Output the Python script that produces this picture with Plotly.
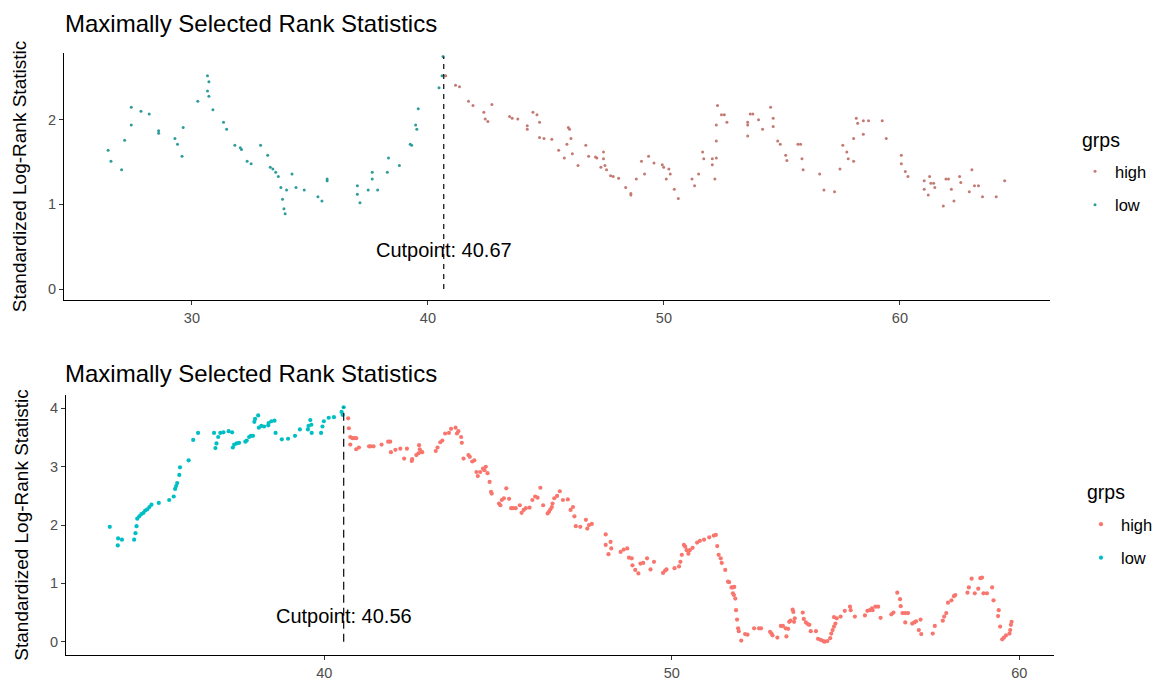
import plotly.graph_objects as go

# ---------------- data: top panel ----------------
top_cutpoint = 40.67
top_cuts = [26.45, 26.57, 27.02, 27.15, 27.43, 27.43, 27.84, 28.19, 28.59, 28.59,
            29.28, 29.39, 29.58, 29.63, 30.25, 30.66, 30.72, 30.66, 30.72, 30.89,
            31.34, 31.47, 31.82, 32.05, 32.10, 32.34, 32.51, 32.91, 33.21, 33.32,
            33.43, 33.55, 33.66, 33.77, 33.84, 33.90, 33.95, 34.01, 34.24, 34.41,
            34.76, 35.34, 35.51, 35.73, 35.73, 37.01, 37.01, 37.12, 37.47, 37.64,
            37.64, 37.87, 38.28, 38.33, 38.79, 39.25, 39.31, 39.48, 39.53, 39.59,
            40.47, 40.60, 40.64,
            40.75, 41.17, 41.34, 41.72, 41.91, 42.37, 42.43, 42.54, 42.71, 43.46,
            43.57, 43.81, 44.21, 44.21, 44.45, 44.62, 44.73, 44.73, 44.92, 45.25,
            45.54, 45.78, 45.89, 45.95, 46.00, 46.06, 46.12, 46.36, 46.69, 46.81,
            47.10, 47.16, 47.33, 47.44, 47.44, 47.50, 47.57, 47.74, 47.85, 48.08,
            48.38, 48.60, 48.60, 48.83, 49.05, 49.18, 49.35, 49.58, 49.93, 49.99,
            50.10, 50.21, 50.27, 50.44, 50.61, 51.19, 51.30, 51.47, 51.64, 51.69,
            52.05, 52.05, 52.16, 52.22, 52.22, 52.22, 52.27, 52.44, 52.56, 52.67,
            53.55, 53.55, 53.55, 53.66, 53.77, 54.01, 54.18, 54.52, 54.63, 54.63,
            54.82, 54.93, 55.16, 55.21, 55.68, 55.79, 55.85, 55.90, 56.60, 56.78,
            57.23, 57.46, 57.58, 57.75, 57.81, 58.04, 58.04, 58.15, 58.21, 58.45,
            58.45, 58.67, 59.25, 59.42, 60.06, 60.06, 60.23, 60.34, 61.03, 61.03,
            61.20, 61.26, 61.31, 61.43, 61.48, 61.84, 61.95, 62.06, 62.18, 62.29,
            62.53, 62.58, 62.94, 63.05, 63.16, 63.33, 63.50, 64.08, 64.44]
top_stats = [1.64, 1.51, 1.41, 1.76, 2.15, 1.94, 2.10, 2.07, 1.87, 1.84,
             1.78, 1.71, 1.57, 1.91, 2.22, 2.52, 2.45, 2.34, 2.28, 2.12,
             1.97, 1.89, 1.70, 1.67, 1.65, 1.51, 1.48, 1.70, 1.58, 1.44,
             1.42, 1.38, 1.33, 1.20, 1.06, 0.95, 0.89, 1.17, 1.36, 1.20,
             1.17, 1.09, 1.04, 1.30, 1.28, 1.22, 1.12, 1.02, 1.17, 1.38,
             1.30, 1.17, 1.38, 1.55, 1.46, 1.71, 1.70, 1.94, 1.89, 2.13,
             2.38, 2.52, 2.75,
             2.52, 2.41, 2.39, 2.22, 2.17, 2.09, 2.01, 1.98, 2.18, 2.04,
             2.02, 2.01, 1.93, 1.89, 2.09, 2.06, 1.97, 1.79, 1.78, 1.77,
             1.64, 1.55, 1.71, 1.91, 1.89, 1.78, 1.60, 1.46, 1.70, 1.57,
             1.56, 1.55, 1.44, 1.62, 1.54, 1.46, 1.41, 1.34, 1.33, 1.31,
             1.20, 1.13, 1.11, 1.30, 1.51, 1.36, 1.57, 1.49, 1.47, 1.44,
             1.30, 1.42, 1.36, 1.18, 1.07, 1.30, 1.22, 1.36, 1.62, 1.54,
             1.54, 1.47, 1.30, 1.94, 1.75, 1.55, 2.17, 2.06, 2.06, 1.97,
             1.97, 1.94, 1.81, 2.07, 2.07, 2.00, 1.89, 2.15, 2.02, 1.92,
             1.75, 1.71, 1.58, 1.52, 1.71, 1.71, 1.54, 1.41, 1.36, 1.17,
             1.15, 1.42, 1.70, 1.62, 1.54, 1.51, 1.78, 2.02, 1.96, 1.99,
             1.83, 1.99, 1.99, 1.78, 1.58, 1.48, 1.39, 1.33, 1.28, 1.18,
             1.11, 1.33, 1.25, 1.25, 1.20, 0.98, 1.30, 1.30, 1.18, 1.04,
             1.33, 1.26, 1.15, 1.41, 1.22, 1.22, 1.09, 1.09, 1.28]

# ---------------- data: bottom panel ----------------
bot_cutpoint = 40.56
bot_cuts = [33.83, 34.06, 34.07, 34.18, 34.53, 34.57, 34.60, 34.62, 34.68, 34.74,
            34.80, 34.85, 34.91, 34.97, 35.03, 35.24, 35.54, 35.67, 35.71, 35.74,
            35.77, 35.83, 35.85, 36.10, 36.23, 36.37, 36.83, 36.87, 36.90, 36.95,
            37.01, 37.10, 37.25, 37.35, 37.37, 37.41, 37.48, 37.55, 37.73, 37.77,
            37.84, 37.89, 37.95, 37.99, 38.01, 38.10, 38.12, 38.19, 38.27, 38.39,
            38.40, 38.48, 38.57, 38.60, 38.78, 38.96, 39.16, 39.30, 39.53, 39.55,
            39.60, 39.63, 39.64, 39.91, 39.95, 39.99, 40.13, 40.28, 40.50, 40.53,
            40.56,
            40.69, 40.71, 40.75, 40.81, 40.86, 40.92, 40.75, 40.92, 41.00, 41.29,
            41.34, 41.42, 41.65, 41.84, 41.90, 41.92, 42.05, 42.19, 42.30, 42.38,
            42.52, 42.53, 42.65, 42.71, 42.73, 42.75, 42.78, 42.82, 43.21, 43.26,
            43.34, 43.40, 43.48, 43.59, 43.65, 43.78, 43.82, 43.86, 43.94, 43.96,
            44.01, 44.15, 44.19, 44.26, 44.32, 44.38, 44.42, 44.49, 44.57, 44.61,
            44.65, 44.70, 44.76, 44.80, 44.82, 45.03, 45.07, 45.11, 45.17, 45.24,
            45.32, 45.38, 45.43, 45.51, 45.63, 45.68, 45.74, 45.80, 45.91, 45.99,
            46.07, 46.14, 46.22, 46.30, 46.43, 46.47, 46.51, 46.55, 46.57, 46.62,
            46.70, 46.78, 46.87, 47.01, 47.09, 47.16, 47.20, 47.24, 47.37, 47.53,
            47.57, 47.62, 47.70, 48.10, 48.10, 48.18, 48.24, 48.26, 48.53, 48.62,
            48.72, 48.77, 48.85, 48.87, 48.95, 49.04, 49.10, 49.18, 49.29, 49.39,
            49.49, 49.75, 49.81, 49.85, 50.08, 50.21, 50.25, 50.29, 50.35, 50.39,
            50.43, 50.48, 50.52, 50.60, 50.73, 50.81, 50.93, 51.08, 51.21, 51.27,
            51.31, 51.35, 51.41, 51.44, 51.54, 51.62, 51.65, 51.72, 51.76, 51.80,
            51.76, 51.79, 51.83, 51.85, 51.88, 51.91, 51.93, 52.00, 52.11, 52.18,
            52.37, 52.51, 52.57, 52.83, 52.87, 52.90, 53.04, 53.14, 53.20, 53.28,
            53.30, 53.35, 53.38, 53.42, 53.48, 53.50, 53.54, 53.52, 53.77, 53.80,
            53.86, 53.92, 53.96, 54.00, 54.15, 54.21, 54.29, 54.36, 54.40, 54.48,
            54.56, 54.59, 54.63, 54.67, 54.71, 54.67, 54.75, 54.86, 54.98, 55.13,
            55.15, 55.27, 55.56, 55.63, 55.70, 55.76, 55.78, 55.86, 55.94, 56.01,
            56.32, 56.38, 56.49, 56.57, 56.59, 56.64, 56.72, 56.80, 56.72, 56.92,
            56.98, 57.03, 57.11, 57.16, 57.18, 57.51, 57.57, 57.80, 57.84, 57.90,
            57.95, 58.05, 58.12, 58.16, 58.51, 58.55, 58.63, 58.72, 58.82, 58.88,
            58.93, 58.97, 59.07, 59.22, 59.26, 59.41, 59.39, 59.45, 59.51, 59.56,
            59.62, 59.72, 59.74, 59.76, 59.78]
bot_stats = [1.97, 1.65, 1.77, 1.75, 1.75, 1.86, 1.98, 2.11, 2.15, 2.19,
             2.21, 2.25, 2.27, 2.31, 2.35, 2.38, 2.43, 2.49, 2.62, 2.67,
             2.72, 2.86, 2.99, 3.11, 3.46, 3.58, 3.58, 3.32, 3.40, 3.51,
             3.58, 3.59, 3.61, 3.59, 3.33, 3.38, 3.40, 3.41, 3.43, 3.45,
             3.51, 3.53, 3.53, 3.77, 3.82, 3.88, 3.67, 3.70, 3.69, 3.71,
             3.75, 3.78, 3.79, 3.58, 3.47, 3.48, 3.53, 3.64, 3.64, 3.70,
             3.80, 3.72, 3.58, 3.58, 3.69, 3.78, 3.84, 3.85, 3.94, 3.89,
             4.02,
             3.83, 3.66, 3.51, 3.49, 3.49, 3.49, 3.38, 3.30, 3.33, 3.35,
             3.35, 3.35, 3.38, 3.43, 3.43, 3.25, 3.29, 3.31, 3.14, 3.31,
             3.10, 3.13, 3.20, 3.23, 3.37, 3.30, 3.25, 3.25, 3.27, 3.33,
             3.42, 3.45, 3.57, 3.58, 3.65, 3.67, 3.57, 3.61, 3.51, 3.41,
             3.14, 3.20, 3.17, 3.09, 3.11, 2.91, 2.84, 2.91, 2.97, 2.94,
             3.00, 2.89, 2.74, 2.57, 2.54, 2.37, 2.34, 2.43, 2.46, 2.63,
             2.45, 2.29, 2.29, 2.29, 2.34, 2.21, 2.26, 2.29, 2.30, 2.43,
             2.49, 2.47, 2.64, 2.34, 2.20, 2.23, 2.27, 2.31, 2.37, 2.46,
             2.50, 2.58, 2.43, 2.44, 2.26, 2.31, 2.15, 1.98, 1.97, 2.09,
             1.94, 2.00, 2.02, 1.84, 1.66, 1.50, 1.71, 1.60, 1.54, 1.58,
             1.60, 1.44, 1.43, 1.31, 1.23, 1.17, 1.34, 1.35, 1.43, 1.24,
             1.37, 1.18, 1.22, 1.24, 1.26, 1.29, 1.37, 1.49, 1.66, 1.63,
             1.57, 1.51, 1.57, 1.61, 1.70, 1.73, 1.75, 1.79, 1.82, 1.83,
             1.64, 1.49, 1.43, 1.35, 1.23, 1.03, 1.02, 0.93, 0.93, 0.94,
             0.83, 0.80, 0.74, 0.54, 0.38, 0.23, 0.18, 0.02, 0.13, 0.12,
             0.23, 0.23, 0.23, 0.17, 0.14, 0.11, 0.07, 0.27, 0.27, 0.23,
             0.09, 0.22, 0.34, 0.36, 0.55, 0.51, 0.40, 0.34, 0.50, 0.39,
             0.33, 0.30, 0.29, 0.18, 0.18, 0.05, 0.03, 0.01, 0.00, 0.01,
             0.06, 0.14, 0.20, 0.26, 0.31, 0.42, 0.40, 0.43, 0.53, 0.60,
             0.54, 0.43, 0.45, 0.53, 0.54, 0.57, 0.54, 0.60, 0.60, 0.41,
             0.47, 0.50, 0.84, 0.73, 0.61, 0.49, 0.49, 0.49, 0.33, 0.31,
             0.33, 0.35, 0.20, 0.38, 0.13, 0.14, 0.27, 0.36, 0.43, 0.49,
             0.67, 0.71, 0.78, 0.80, 0.84, 0.93, 1.08, 0.83, 0.91, 1.09,
             1.10, 0.83, 0.83, 0.93, 0.71, 0.54, 0.44, 0.26, 0.04, 0.07,
             0.11, 0.14, 0.20, 0.29, 0.34]

groups = ["high", "low"]
legend_title = "grps"
title_text = "Maximally Selected Rank Statistics"
y_title = "Standardized Log-Rank Statistic"
label_y = 0.5

FONT = "Liberation Sans, Arial, sans-serif"
top_colors = {"high": "#c47a72", "low": "#2f9c9c"}
bot_colors = {"high": "#F8766D", "low": "#00BFC4"}

W, H = 1168, 680


def px_x(px):
    return px / W


def px_y(py):
    return 1 - py / H


def split(cuts, stats, cp):
    out = {"high": ([], []), "low": ([], [])}
    for x, y in zip(cuts, stats):
        g = "low" if x <= cp else "high"
        out[g][0].append(x)
        out[g][1].append(y)
    return out


fig = go.Figure()

panels = [
    dict(cuts=top_cuts, stats=top_stats, cp=top_cutpoint, colors=top_colors,
         xa="x", ya="y", legend="legend", msize=3.0, dash="5px,5px"),
    dict(cuts=bot_cuts, stats=bot_stats, cp=bot_cutpoint, colors=bot_colors,
         xa="x2", ya="y2", legend="legend2", msize=4.2, dash="8px,5px"),
]

for p in panels:
    parts = split(p["cuts"], p["stats"], p["cp"])
    for g in groups:
        xs, ys = parts[g]
        fig.add_trace(go.Scatter(
            x=xs, y=ys, mode="markers", name=g, legendgroup=p["legend"] + g,
            marker=dict(color=p["colors"][g], size=p["msize"], line=dict(width=0)),
            xaxis=p["xa"], yaxis=p["ya"], legend=p["legend"], showlegend=True,
        ))
    # dashed segment from 0 to the maximal statistic at the cutpoint
    fig.add_trace(go.Scatter(
        x=[p["cp"], p["cp"]], y=[0, max(p["stats"])], mode="lines",
        line=dict(color="#1a1a1a", width=1.3, dash=p["dash"]),
        xaxis=p["xa"], yaxis=p["ya"], showlegend=False, hoverinfo="skip",
    ))
    fig.add_annotation(
        x=p["cp"], y=label_y, xref=p["xa"], yref=p["ya"],
        text=f"Cutpoint: {p['cp']:.2f}", showarrow=False,
        font=dict(family=FONT, size=20, color="#000000"),
        xanchor="center", yanchor="middle", yshift=-3,
    )

axis_common = dict(
    showgrid=False, zeroline=False, showline=True, linecolor="#000000", linewidth=1.2,
    ticks="outside", ticklen=4, tickcolor="#333333", tickwidth=1.1,
    tickfont=dict(family=FONT, size=14.5, color="#4D4D4D"),
)

ytitle = dict(text=y_title, font=dict(family=FONT, size=19, color="#000000"), standoff=16)
legend_common = dict(
    xanchor="left", yanchor="top",
    font=dict(family=FONT, size=16.5, color="#000000"),
    bgcolor="rgba(0,0,0,0)", tracegroupgap=9, traceorder="grouped",
)

fig.update_layout(
    width=W, height=H,
    margin=dict(l=0, r=0, t=0, b=0),
    paper_bgcolor="white", plot_bgcolor="white",
    font=dict(family=FONT, color="#000000"),
    xaxis=dict(domain=[px_x(64), px_x(1050)], range=[24.58, 66.36],
               tickvals=[30, 40, 50, 60], anchor="y", **axis_common),
    yaxis=dict(domain=[px_y(300), px_y(53)], range=[-0.13, 2.79],
               tickvals=[0, 1, 2], anchor="x", title=ytitle, **axis_common),
    xaxis2=dict(domain=[px_x(66), px_x(1054)], range=[32.57, 61.0],
                tickvals=[40, 50, 60], anchor="y2", **axis_common),
    yaxis2=dict(domain=[px_y(655), px_y(395)], range=[-0.228, 4.23],
                tickvals=[0, 1, 2, 3, 4], anchor="x2", title=ytitle, **axis_common),
    legend=dict(x=px_x(1075), y=px_y(154), **legend_common),
    legend2=dict(x=px_x(1081), y=px_y(507), **legend_common),
)

# legend titles
for lx, ly in [(1080, 140), (1085, 492)]:
    fig.add_annotation(x=px_x(lx), y=px_y(ly), xref="paper", yref="paper", text=legend_title,
                       showarrow=False, xanchor="left", yanchor="middle",
                       font=dict(family=FONT, size=19.5, color="#000000"))

for ty in [24, 373]:
    fig.add_annotation(x=px_x(63), y=px_y(ty), xref="paper", yref="paper", text=title_text,
                       showarrow=False, xanchor="left", yanchor="middle",
                       font=dict(family=FONT, size=24, color="#000000"))

fig.write_html("out.html")
